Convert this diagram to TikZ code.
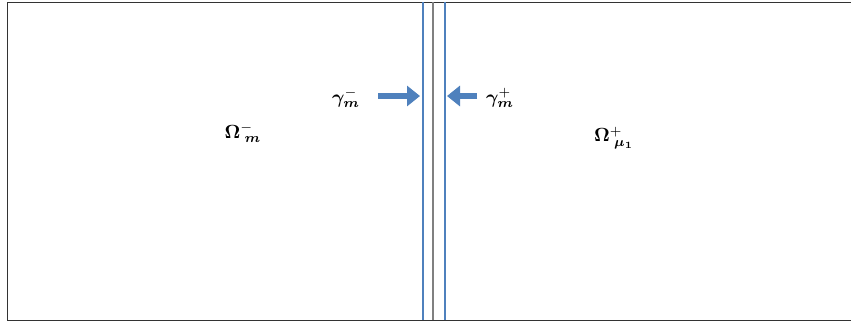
\documentclass[tikz,border=0pt]{standalone}
\usepackage{amsmath,bm}
\usetikzlibrary{arrows.meta}
\definecolor{ablue}{RGB}{79,129,189}
\definecolor{midgray}{RGB}{128,128,128}
\tikzset{
  frame/.style={draw=black!80, line width=0.9pt},
  bluerule/.style={draw=ablue, line width=1.2pt},
  grayrule/.style={draw=midgray, line width=1.8pt},
  bigarrow/.style={draw=ablue, line width=6pt, -{Triangle[length=13pt,width=20pt]}},
  lbl/.style={inner sep=0pt, scale=1.9}
}
\begin{document}
\begin{tikzpicture}[x=1pt,y=-1pt]
\useasboundingbox (0,0) rectangle (851,322);
\coordinate (tl) at (7,2);
\coordinate (tr) at (851,2);
\coordinate (bl) at (7,320);
\coordinate (br) at (851,320);
\draw[frame] (tr) -- (tl) -- (bl) -- (br);
% interface lines
\coordinate (a1) at (423,2); \coordinate (a2) at (423,320);
\coordinate (b1) at (433,2); \coordinate (b2) at (433,320);
\coordinate (c1) at (445,2); \coordinate (c2) at (445,320);
\draw[bluerule] (a1) -- (a2);
\draw[grayrule] (b1) -- (b2);
\draw[bluerule] (c1) -- (c2);
% arrows
\coordinate (la) at (378,96); \coordinate (lb) at (420,96);
\coordinate (ra) at (477,96); \coordinate (rb) at (447,96);
\draw[bigarrow] (la) -- (lb);
\draw[bigarrow] (ra) -- (rb);
% labels
\node[lbl] (gm) at (346,98) {$\bm{\gamma}^{-}_{\bm{m}}$};
\node[lbl] (gp) at (500,98) {$\bm{\gamma}^{+}_{\bm{m}}$};
\node[lbl] (om) at (243,133) {$\bm{\Omega}^{-}_{\;\bm{m}}$};
\node[lbl] (op) at (614,138) {$\bm{\Omega}^{+}_{\;\bm{\mu}_{\bm{1}}}$};
\end{tikzpicture}
\end{document}
